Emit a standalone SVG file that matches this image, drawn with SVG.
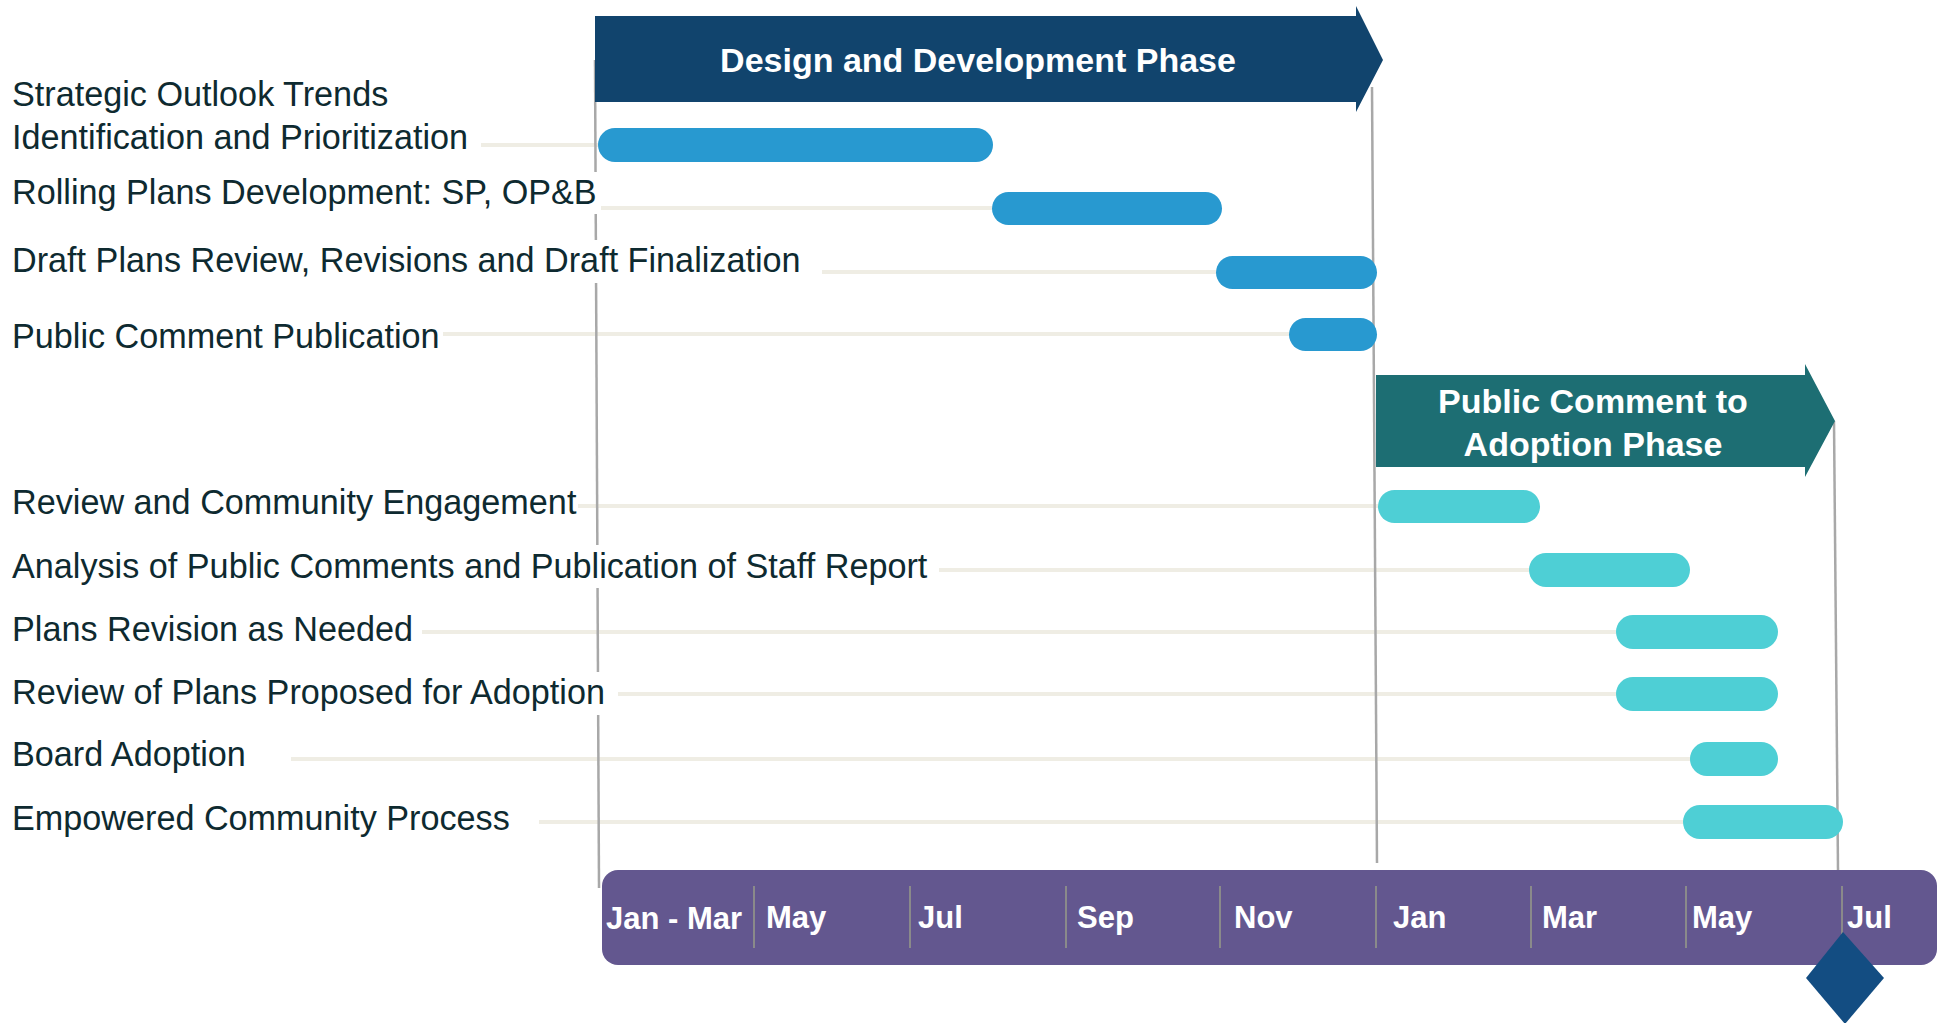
<svg xmlns="http://www.w3.org/2000/svg" width="1948" height="1023" viewBox="0 0 1948 1023">
<style>
.lbl{font-family:"Liberation Sans",Arial,sans-serif;font-size:34.2px;fill:#0e2a30}
.ph{font-family:"Liberation Sans",Arial,sans-serif;font-size:34px;font-weight:bold;fill:#ffffff;text-anchor:middle}
.mo{font-family:"Liberation Sans",Arial,sans-serif;font-size:31px;font-weight:bold;fill:#ffffff}
.guide{stroke:#efede4;stroke-width:4;fill:none}
.vl{stroke:#a8a8a8;stroke-width:2.5;fill:none}
.tick{stroke:#8a8a8a;stroke-width:2;fill:none}
.b1{fill:#2899d0}
.b2{fill:#4ecfd5}
.bg{fill:#ffffff}
</style>
<rect width="1948" height="1023" fill="#ffffff"/>
<g id="connectors">
  <line class="guide" x1="481" y1="145" x2="600" y2="145"/>
  <line class="guide" x1="601" y1="208" x2="995" y2="208"/>
  <line class="guide" x1="822" y1="272" x2="1218" y2="272"/>
  <line class="guide" x1="443" y1="334" x2="1292" y2="334"/>
  <line class="guide" x1="578" y1="506" x2="1380" y2="506"/>
  <line class="guide" x1="939" y1="570" x2="1531" y2="570"/>
  <line class="guide" x1="422" y1="632" x2="1618" y2="632"/>
  <line class="guide" x1="618" y1="694" x2="1618" y2="694"/>
  <line class="guide" x1="291" y1="759" x2="1692" y2="759"/>
  <line class="guide" x1="539" y1="822" x2="1685" y2="822"/>
  <line class="vl" x1="595" y1="60" x2="599" y2="888"/>
  <line class="vl" x1="1372" y1="87" x2="1377" y2="863"/>
  <line class="vl" x1="1834" y1="421" x2="1838" y2="870"/>
</g>
<g id="phase-design">
  <path d="M595,16 H1356 V6 L1383,60 L1356,112 V102 H595 Z" fill="#11446d"/>
  <text class="ph" x="978" y="72">Design and Development Phase</text>
</g>
<g id="phase-public">
  <path d="M1376,375 H1805 V364 L1835,421 L1805,477 V467 H1376 Z" fill="#1d6e73"/>
  <text class="ph" x="1593" y="413">Public Comment to</text>
  <text class="ph" x="1593" y="456">Adoption Phase</text>
</g>
<g id="task-1">
  <text class="lbl" x="12" y="106">Strategic Outlook Trends</text>
  <text class="lbl" x="12" y="149">Identification and Prioritization</text>
  <rect class="b1" x="598" y="128" width="395" height="34" rx="17"/>
</g>
<g id="task-2">
  <rect class="bg" x="0" y="172" width="600" height="42"/>
  <text class="lbl" x="12" y="204">Rolling Plans Development: SP, OP&amp;B</text>
  <rect class="b1" x="992" y="192" width="230" height="33" rx="16.5"/>
</g>
<g id="task-3">
  <rect class="bg" x="0" y="240" width="805" height="43"/>
  <text class="lbl" x="12" y="272">Draft Plans Review, Revisions and Draft Finalization</text>
  <rect class="b1" x="1216" y="256" width="161" height="33" rx="16.5"/>
</g>
<g id="task-4">
  <text class="lbl" x="12" y="348">Public Comment Publication</text>
  <rect class="b1" x="1289" y="318" width="88" height="33" rx="16.5"/>
</g>
<g id="task-5">
  <text class="lbl" x="12" y="514">Review and Community Engagement</text>
  <rect class="b2" x="1378" y="490" width="162" height="33" rx="16.5"/>
</g>
<g id="task-6">
  <rect class="bg" x="0" y="545" width="934" height="43"/>
  <text class="lbl" x="12" y="578">Analysis of Public Comments and Publication of Staff Report</text>
  <rect class="b2" x="1529" y="553" width="161" height="34" rx="17"/>
</g>
<g id="task-7">
  <text class="lbl" x="12" y="641">Plans Revision as Needed</text>
  <rect class="b2" x="1616" y="615" width="162" height="34" rx="17"/>
</g>
<g id="task-8">
  <rect class="bg" x="0" y="672" width="610" height="43"/>
  <text class="lbl" x="12" y="704">Review of Plans Proposed for Adoption</text>
  <rect class="b2" x="1616" y="677" width="162" height="34" rx="17"/>
</g>
<g id="task-9">
  <text class="lbl" x="12" y="766">Board Adoption</text>
  <rect class="b2" x="1690" y="742" width="88" height="34" rx="17"/>
</g>
<g id="task-10">
  <text class="lbl" x="12" y="830">Empowered Community Process</text>
  <rect class="b2" x="1683" y="805" width="160" height="34" rx="17"/>
</g>
<g id="timeline">
  <rect x="602" y="870" width="1335" height="95" rx="16" fill="#63578f"/>
  <line class="tick" x1="754" y1="886" x2="754" y2="948"/>
  <line class="tick" x1="910" y1="886" x2="910" y2="948"/>
  <line class="tick" x1="1066" y1="886" x2="1066" y2="948"/>
  <line class="tick" x1="1220" y1="886" x2="1220" y2="948"/>
  <line class="tick" x1="1376" y1="886" x2="1376" y2="948"/>
  <line class="tick" x1="1531" y1="886" x2="1531" y2="948"/>
  <line class="tick" x1="1686" y1="886" x2="1686" y2="948"/>
  <line class="tick" x1="1842" y1="886" x2="1842" y2="948"/>
  <text class="mo" x="606" y="929">Jan - Mar</text>
  <text class="mo" x="766" y="928">May</text>
  <text class="mo" x="918" y="928">Jul</text>
  <text class="mo" x="1077" y="928">Sep</text>
  <text class="mo" x="1234" y="928">Nov</text>
  <text class="mo" x="1393" y="928">Jan</text>
  <text class="mo" x="1542" y="928">Mar</text>
  <text class="mo" x="1692" y="928">May</text>
  <text class="mo" x="1847" y="928">Jul</text>
</g>
<g id="milestone">
  <polygon points="1843,932 1884,978 1845,1024 1806,978" fill="#134d82"/>
</g>
</svg>
